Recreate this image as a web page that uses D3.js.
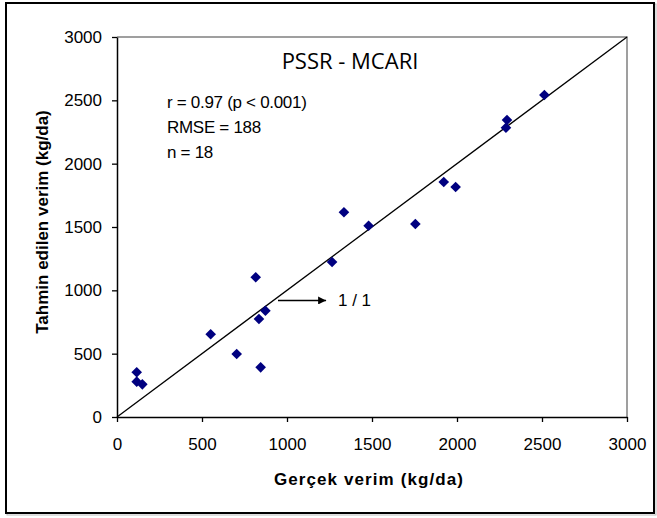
<!DOCTYPE html>
<html>
<head>
<meta charset="utf-8">
<script src="https://cdn.jsdelivr.net/npm/d3@7"></script>
<style>
  body { margin: 0; background: #fff; }
  svg { display: block; }
  .tick text { font-family: "Liberation Sans", Arial, sans-serif; font-size: 17px; fill: #000; }
</style>
</head>
<body>
<svg id="chart" width="657" height="518"></svg>
<script>
// observed yield (kg/da) and estimated yield (kg/da)
const gercek = [116, 116, 149, 551, 704, 816, 835, 873, 845, 1265, 1335, 1480, 1755, 1922, 1992, 2294, 2288, 2514];
const tahmin = [353, 279, 258, 653, 497, 1103, 774, 839, 392, 1224, 1616, 1510, 1524, 1855, 1816, 2345, 2284, 2542];
const tickValues = [0, 500, 1000, 1500, 2000, 2500, 3000];
const statLines = ["r = 0.97 (p < 0.001)", "RMSE = 188", "n = 18"];

const svg = d3.select("#chart");
const plotL = 117, plotR = 627, plotT = 37, plotB = 417;

const x = d3.scaleLinear().domain([0, 3000]).range([plotL, plotR]);
const y = d3.scaleLinear().domain([0, 3000]).range([plotB, plotT]);

// outer chart frame (with slight shadow)
svg.append("rect").attr("x", 7).attr("y", 4).attr("width", 649).attr("height", 511)
  .attr("fill", "none").attr("stroke", "#bbb").attr("stroke-width", 1);
svg.append("rect").attr("x", 6).attr("y", 3).attr("width", 648).attr("height", 510)
  .attr("fill", "#fff").attr("stroke", "#000").attr("stroke-width", 2);

// plot area border (gray, top and right)
svg.append("path")
  .attr("d", `M${plotL},${plotT}H${plotR}V${plotB}`)
  .attr("fill", "none").attr("stroke", "#808080").attr("stroke-width", 1.5);

// 1:1 line
svg.append("line")
  .attr("x1", x(0)).attr("y1", y(0)).attr("x2", x(3000)).attr("y2", y(3000))
  .attr("stroke", "#000").attr("stroke-width", 1.3);

// axes
const fmt = d3.format("d");
const xAxis = svg.append("g").attr("transform", `translate(0,${plotB})`)
  .call(d3.axisBottom(x).tickValues(tickValues).tickFormat(fmt).tickSize(5).tickSizeOuter(0).tickPadding(16));
const yAxis = svg.append("g").attr("transform", `translate(${plotL},0)`)
  .call(d3.axisLeft(y).tickValues(tickValues).tickFormat(fmt).tickSize(5).tickSizeOuter(0).tickPadding(10));
[xAxis, yAxis].forEach(a => {
  a.select(".domain").attr("stroke", "#000").attr("stroke-width", 1.5);
  a.selectAll(".tick line").attr("stroke", "#000").attr("stroke-width", 1.3);
});

// points (diamonds)
const diamond = d3.symbol().type(d3.symbolDiamond2).size(72);
svg.append("g").selectAll("path")
  .data(gercek.map((g, i) => ({ g, t: tahmin[i] })))
  .join("path")
  .attr("transform", d => `translate(${x(d.g)},${y(d.t)})`)
  .attr("d", diamond)
  .attr("fill", "#000080");

// title
svg.append("text").attr("x", 350).attr("y", 69).attr("text-anchor", "middle")
  .attr("font-family", "'Open Sans', 'Noto Sans', sans-serif").attr("font-size", 22)
  .text("PSSR - MCARI");

// stats
svg.append("g").selectAll("text").data(statLines).join("text")
  .attr("x", 167).attr("y", (d, i) => 108 + i * 25)
  .attr("font-family", "'Liberation Sans', Arial, sans-serif").attr("font-size", 17)
  .attr("letter-spacing", -0.3)
  .text(d => d);

// 1/1 arrow
svg.append("defs").append("marker")
  .attr("id", "arr").attr("viewBox", "0 0 10 10").attr("refX", 10).attr("refY", 5)
  .attr("markerWidth", 8).attr("markerHeight", 8).attr("markerUnits", "userSpaceOnUse")
  .attr("orient", "auto")
  .append("path").attr("d", "M0,0L10,5L0,10z").attr("fill", "#000");
svg.append("line")
  .attr("x1", x(947)).attr("y1", y(920)).attr("x2", x(1230)).attr("y2", y(920))
  .attr("stroke", "#000").attr("stroke-width", 1.5).attr("marker-end", "url(#arr)");
svg.append("text").attr("x", x(1300)).attr("y", y(920) + 6)
  .attr("font-family", "'Liberation Sans', Arial, sans-serif").attr("font-size", 17)
  .text("1 / 1");

// axis titles
svg.append("text").attr("x", 369).attr("y", 485).attr("text-anchor", "middle")
  .attr("font-family", "'Liberation Sans', Arial, sans-serif").attr("font-size", 17)
  .attr("letter-spacing", 1.1)
  .attr("font-weight", "bold").text("Gerçek verim (kg/da)");
svg.append("text").attr("transform", "translate(48,222) rotate(-90)").attr("text-anchor", "middle")
  .attr("font-family", "'Liberation Sans', Arial, sans-serif").attr("font-size", 17)
  .attr("font-weight", "bold").text("Tahmin edilen verim (kg/da)");
</script>
</body>
</html>
